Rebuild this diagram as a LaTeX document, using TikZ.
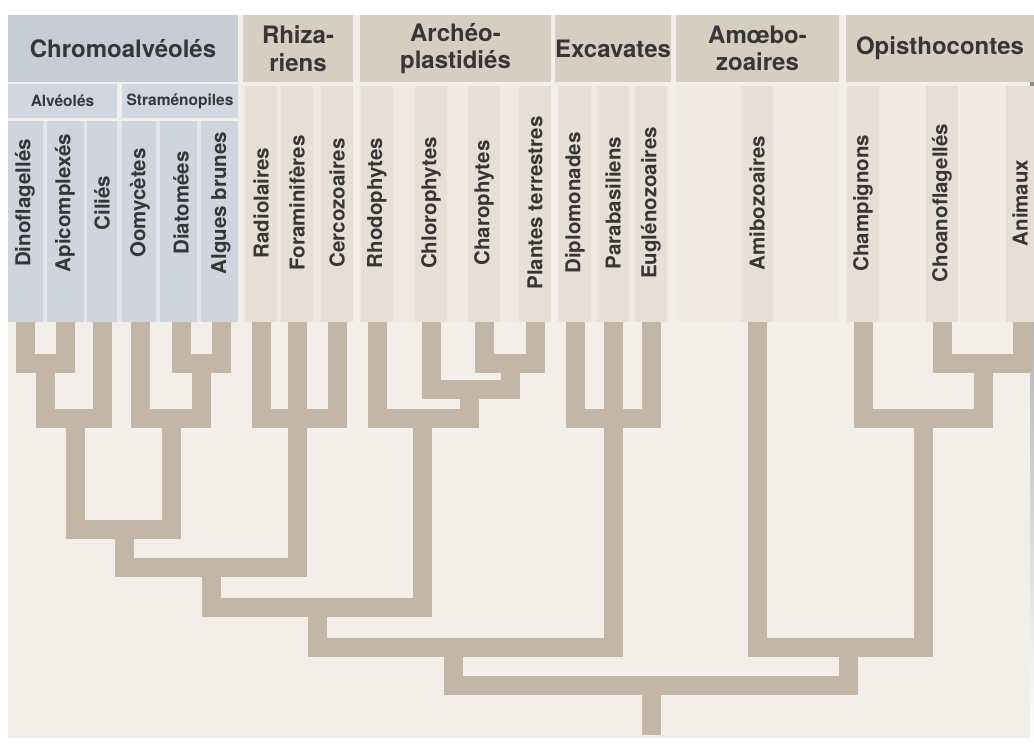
\documentclass[tikz,border=0pt]{standalone}
\usepackage{fontspec}
\setmainfont{TeX Gyre Heros}
\usepackage{tikz}
\usepackage{xcolor}

\definecolor{chromohead}{HTML}{C7CCD6}
\definecolor{chromosub}{HTML}{D2D6DE}
\definecolor{chromocol}{HTML}{D0D4DC}
\definecolor{chromogap}{HTML}{E3E5EA}
\definecolor{beigehead}{HTML}{D7CEC2}
\definecolor{beigearea}{HTML}{EFEAE4}
\definecolor{beigecol}{HTML}{E6DFD6}
\definecolor{panel}{HTML}{F2EEE9}
\definecolor{shade}{HTML}{E0DFDD}
\definecolor{treeline}{HTML}{C3B6A6}
\definecolor{ink}{HTML}{363636}

\begin{document}
\begin{tikzpicture}[x=1pt,y=1pt,
  head/.style={fill=#1, text=ink, font=\fontsize{24}{27.5}\selectfont\bfseries, align=center, inner sep=0pt, minimum height=67pt},
  subhead/.style={fill=chromosub, text=ink, font=\fontsize{15.5}{18}\selectfont\bfseries, inner sep=0pt, minimum height=34pt},
  leaf/.style={rotate=90, text=ink, font=\fontsize{20.5}{22}\selectfont\bfseries, inner sep=0pt},
  branch/.style={draw=treeline, line width=19pt, line join=miter}]
\useasboundingbox (0,0) rectangle (1034,-745);
\fill[white] (0,0) rectangle (1034,-745);
\fill[shade] (10,-20) rectangle (1034,-745);
\fill[panel] (8,-15) rectangle (1030,-738);

\node[head=chromohead, minimum width=230pt] (chromo-h) at (123,-48.5) {Chromoalvéolés};
\node[head=beigehead, minimum width=110pt] (rhiz-h) at (298,-48.5) {Rhiza-\\riens};
\node[head=beigehead, minimum width=191pt] (arch-h) at (455.5,-48.5) {Archéo-\\plastidiés};
\node[head=beigehead, minimum width=112pt] (exc-h) at (613,-48.5) {Excavates};
\node[head=beigehead, minimum width=163pt] (amoe-h) at (757.5,-48.5) {Amœbo-\\zoaires};
\node[head=beigehead, minimum width=188pt] (opis-h) at (940,-48.5) {Opisthocontes};

\node[subhead, minimum width=109pt] (alv-h) at (62.5,-101) {Alvéolés};
\node[subhead, minimum width=116pt] (stra-h) at (180,-101) {Straménopiles};

\fill[chromogap] (8,-121) rectangle (238,-322);
\fill[chromocol] (8,-121) rectangle (43,-322);
\fill[chromocol] (47,-121) rectangle (84,-322);
\fill[chromocol] (87,-121) rectangle (117,-322);
\fill[chromocol] (122,-121) rectangle (156,-322);
\fill[chromocol] (160,-121) rectangle (197,-322);
\fill[chromocol] (201,-121) rectangle (238,-322);

\fill[beigearea] (243,-86) rectangle (353,-322);
\fill[beigearea] (360,-86) rectangle (551,-322);
\fill[beigearea] (557,-86) rectangle (669,-322);
\fill[beigearea] (676,-86) rectangle (839,-322);
\fill[beigearea] (846,-86) rectangle (1034,-322);
\fill[beigecol] (245,-86) rectangle (277,-322);
\fill[beigecol] (281,-86) rectangle (313,-322);
\fill[beigecol] (321,-86) rectangle (353,-322);
\fill[beigecol] (361,-86) rectangle (393,-322);
\fill[beigecol] (415,-86) rectangle (447,-322);
\fill[beigecol] (468,-86) rectangle (500,-322);
\fill[beigecol] (519,-86) rectangle (551,-322);
\fill[beigecol] (559,-86) rectangle (591,-322);
\fill[beigecol] (597,-86) rectangle (629,-322);
\fill[beigecol] (635,-86) rectangle (667,-322);
\fill[beigecol] (741,-86) rectangle (773,-322);
\fill[beigecol] (847,-86) rectangle (879,-322);
\fill[beigecol] (926,-86) rectangle (958,-322);
\fill[beigecol] (1006,-86) rectangle (1034,-322);

\node[leaf] (dino) at (25,-203) {Dinoflagellés};
\node[leaf] (apic) at (65,-203) {Apicomplexés};
\node[leaf] (cili) at (102,-203) {Ciliés};
\node[leaf] (oomy) at (140,-203) {Oomycètes};
\node[leaf] (diat) at (181,-203) {Diatomées};
\node[leaf] (algu) at (221,-203) {Algues brunes};
\node[leaf] (radi) at (261,-203) {Radiolaires};
\node[leaf] (fora) at (297,-203) {Foraminifères};
\node[leaf] (cerc) at (337,-203) {Cercozoaires};
\node[leaf] (rhod) at (377,-203) {Rhodophytes};
\node[leaf] (chlo) at (431,-203) {Chlorophytes};
\node[leaf] (char) at (484,-203) {Charophytes};
\node[leaf] (plan) at (535,-203) {Plantes terrestres};
\node[leaf] (dipl) at (575,-203) {Diplomonades};
\node[leaf] (para) at (613,-203) {Parabasiliens};
\node[leaf] (eugl) at (651,-203) {Euglénozoaires};
\node[leaf] (amib) at (757,-203) {Amibozoaires};
\node[leaf] (cham) at (863,-203) {Champignons};
\node[leaf] (choa) at (942,-203) {Choanoflagellés};
\node[leaf] (anim) at (1020,-203) {Animaux};

\coordinate (dino-t) at (25,-322);
\coordinate (apic-t) at (65,-322);
\coordinate (cili-t) at (102,-322);
\coordinate (oomy-t) at (140,-322);
\coordinate (diat-t) at (181,-322);
\coordinate (algu-t) at (221,-322);
\coordinate (radi-t) at (261,-322);
\coordinate (fora-t) at (297,-322);
\coordinate (cerc-t) at (337,-322);
\coordinate (rhod-t) at (377,-322);
\coordinate (chlo-t) at (431,-322);
\coordinate (char-t) at (484,-322);
\coordinate (plan-t) at (535,-322);
\coordinate (dipl-t) at (575,-322);
\coordinate (para-t) at (613,-322);
\coordinate (eugl-t) at (651,-322);
\coordinate (amib-t) at (757,-322);
\coordinate (cham-t) at (863,-322);
\coordinate (choa-t) at (942,-322);
\coordinate (anim-t) at (1022,-322);

\coordinate (dinoapic) at (45,-363);
\coordinate (alveo) at (75,-418);
\coordinate (diatalgu) at (201,-363);
\coordinate (strame) at (171,-418);
\coordinate (chromo) at (124,-529.5);
\coordinate (rhiza) at (297,-418);
\coordinate (sar) at (211,-567.5);
\coordinate (charplan) at (510,-363);
\coordinate (chloplus) at (469,-389);
\coordinate (archeo) at (422,-418);
\coordinate (sararch) at (317,-607.5);
\coordinate (excav) at (613,-418);
\coordinate (sarexc) at (453,-647);
\coordinate (choaanim) at (983,-363);
\coordinate (opist) at (923,-418);
\coordinate (amopi) at (848,-647);
\coordinate (root) at (651,-685);
\coordinate (root-end) at (651,-735);

\draw[branch] (dino-t) |- (dinoapic) -| (apic-t);
\draw[branch] (dinoapic) |- (alveo) -| (cili-t);
\draw[branch] (diat-t) |- (diatalgu) -| (algu-t);
\draw[branch] (oomy-t) |- (strame) -| (diatalgu);
\draw[branch] (alveo) |- (chromo) -| (strame);
\draw[branch] (radi-t) |- (rhiza) -| (cerc-t);
\draw[branch] (fora-t) -- (rhiza);
\draw[branch] (chromo) |- (sar) -| (rhiza);
\draw[branch] (char-t) |- (charplan) -| (plan-t);
\draw[branch] (chlo-t) |- (chloplus) -| (charplan);
\draw[branch] (rhod-t) |- (archeo) -| (chloplus);
\draw[branch] (sar) |- (sararch) -| (archeo);
\draw[branch] (dipl-t) |- (excav) -| (eugl-t);
\draw[branch] (para-t) -- (excav);
\draw[branch] (sararch) |- (sarexc) -| (excav);
\draw[branch] (choa-t) |- (choaanim) -| (anim-t);
\draw[branch] (cham-t) |- (opist) -| (choaanim);
\draw[branch] (amib-t) |- (amopi) -| (opist);
\draw[branch] (sarexc) |- (root) -| (amopi);
\draw[branch] (root) -- (root-end);
\end{tikzpicture}
\end{document}
